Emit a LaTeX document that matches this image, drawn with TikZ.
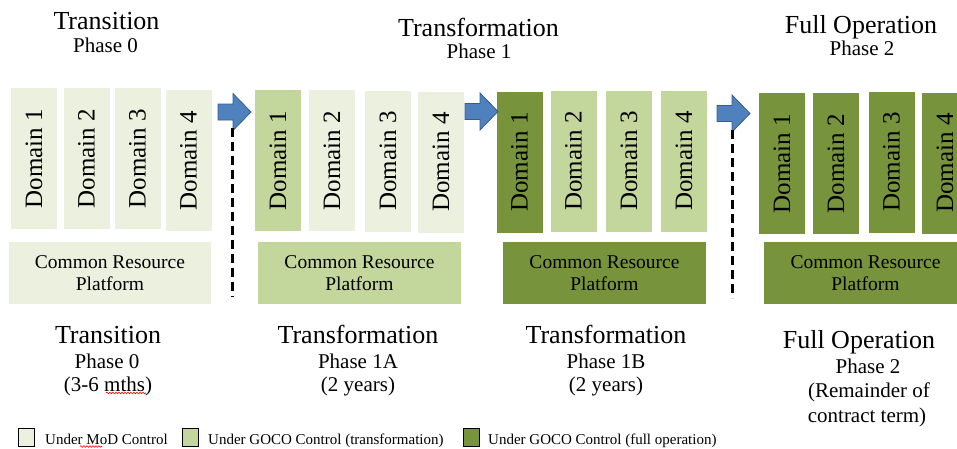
\documentclass[tikz,border=0pt]{standalone}
\usepackage{fontspec}
\setmainfont{Liberation Serif}
\usetikzlibrary{decorations.pathmorphing}
\definecolor{modgreen}{HTML}{EBF1DE}
\definecolor{trgreen}{HTML}{C3D69B}
\definecolor{opgreen}{HTML}{77933C}
\definecolor{arrowblue}{HTML}{4F81BD}
\definecolor{arrowedge}{HTML}{385D8A}
\begin{document}
\begin{tikzpicture}[x=1pt,y=-1pt,
    domainbox/.style={rotate=90, minimum width=141pt, minimum height=46pt, inner sep=0pt, font=\fontsize{25}{25}\selectfont},
    platformbox/.style={minimum width=203pt, minimum height=62pt, inner sep=0pt, align=center, font=\fontsize{19.5}{22}\selectfont},
    headline/.style={anchor=base, font=\fontsize{26}{26}\selectfont},
    phaseline/.style={anchor=base, font=\fontsize{21}{21}\selectfont},
    keybox/.style={draw=black, line width=0.8pt, minimum width=16pt, minimum height=18pt, inner sep=0pt},
    keytext/.style={anchor=base west, inner sep=0pt, font=\fontsize{15}{15}\selectfont},
    cutline/.style={line width=3pt, dash pattern=on 9pt off 5pt},
    squiggle/.style={red, line width=0.6pt, decorate, decoration={snake, amplitude=0.8pt, segment length=3pt}},
    blkarrow/.pic={\filldraw[fill=arrowblue, draw=arrowedge, line width=0.8pt]
        (0,-8) -- (15,-8) -- (15,-18.5) -- (33,0) -- (15,18.5) -- (15,8) -- (0,8) -- cycle;}]
    \clip (0,0) rectangle (957,448);

    % headings
    \node[headline] (t0) at (106.5,29) {Transition};
    \node[phaseline] (t0p) at (105.5,52) {Phase 0};
    \node[headline] (t1) at (478.5,36) {Transformation};
    \node[phaseline] (t1p) at (479,58) {Phase 1};
    \node[headline] (t2) at (861,33) {Full Operation};
    \node[phaseline] (t2p) at (862,55) {Phase 2};

    % phase 0
    \node[domainbox, fill=modgreen] (a1) at (34,158.5) {Domain 1};
    \node[domainbox, fill=modgreen] (a2) at (86.5,158.5) {Domain 2};
    \node[domainbox, fill=modgreen] (a3) at (137.5,158.5) {Domain 3};
    \node[domainbox, fill=modgreen] (a4) at (188.5,160.5) {Domain 4};
    \node[platformbox, minimum width=202pt, fill=modgreen] (pa) at (110,273) {Common Resource\\Platform};

    % phase 1A
    \node[domainbox, fill=trgreen] (b1) at (278,160.5) {Domain 1};
    \node[domainbox, fill=modgreen] (b2) at (332,160.5) {Domain 2};
    \node[domainbox, fill=modgreen] (b3) at (388,161) {Domain 3};
    \node[domainbox, fill=modgreen] (b4) at (441,162) {Domain 4};
    \node[platformbox, fill=trgreen] (pb) at (359.5,273) {Common Resource\\Platform};

    % phase 1B
    \node[domainbox, fill=opgreen] (c1) at (519.5,162) {Domain 1};
    \node[domainbox, fill=trgreen] (c2) at (573.5,161) {Domain 2};
    \node[domainbox, fill=trgreen] (c3) at (629,161) {Domain 3};
    \node[domainbox, fill=trgreen] (c4) at (684,161) {Domain 4};
    \node[platformbox, fill=opgreen] (pc) at (604.5,273) {Common Resource\\Platform};

    % phase 2
    \node[domainbox, fill=opgreen] (d1) at (782,163.5) {Domain 1};
    \node[domainbox, fill=opgreen] (d2) at (836,163.5) {Domain 2};
    \node[domainbox, fill=opgreen] (d3) at (891.5,162) {Domain 3};
    \node[domainbox, fill=opgreen] (d4) at (945,163) {Domain 4};
    \node[platformbox, fill=opgreen] (pd) at (865.5,273) {Common Resource\\Platform};

    % arrows and cuts
    \pic at (218,112) {blkarrow};
    \pic at (465,111.5) {blkarrow};
    \pic at (717,113.5) {blkarrow};
    \draw[cutline] (232,128) -- (232,297);
    \draw[cutline] (732,130) -- (732,298);

    % durations
    \node[headline] (b0) at (108,343) {Transition};
    \node[phaseline] (b0p) at (107,368) {Phase 0};
    \node[phaseline] (b0d) at (108,391) {(3-6 mths)};
    \node[headline] (b1a) at (358,343) {Transformation};
    \node[phaseline] (b1ap) at (358,368) {Phase 1A};
    \node[phaseline] (b1ad) at (358,391) {(2 years)};
    \node[headline] (b1b) at (606,343) {Transformation};
    \node[phaseline] (b1bp) at (606,368) {Phase 1B};
    \node[phaseline] (b1bd) at (606,391) {(2 years)};
    \node[headline] (b2) at (859,348) {Full Operation};
    \node[phaseline] (b2p) at (868,373) {Phase 2};
    \node[phaseline] (b2d) at (869,397) {(Remainder of};
    \node[phaseline] (b2e) at (867,422) {contract term)};
    \draw[squiggle] (106,393) -- (146,393);

    % key
    \node[keybox, fill=modgreen] (k0) at (26.5,437.5) {};
    \node[keytext] (k0t) at (45,444) {Under MoD Control};
    \node[keybox, fill=trgreen] (k1) at (190,437.5) {};
    \node[keytext] (k1t) at (208,444) {Under GOCO Control (transformation)};
    \node[keybox, fill=opgreen] (k2) at (471.5,437.5) {};
    \node[keytext] (k2t) at (488,444) {Under GOCO Control (full operation)};
    \draw[squiggle] (80,446.5) -- (102,446.5);
\end{tikzpicture}
\end{document}
